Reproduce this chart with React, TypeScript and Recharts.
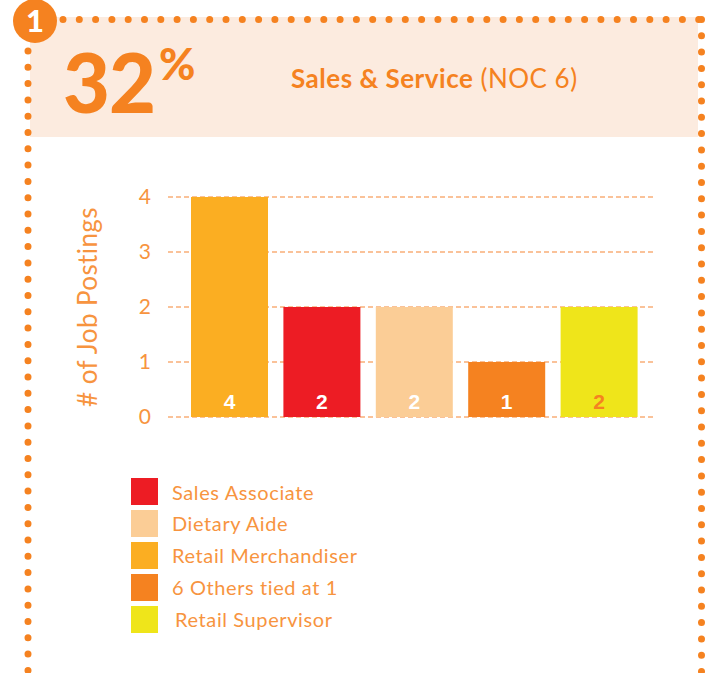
import { BarChart, Bar, XAxis, YAxis, CartesianGrid, Cell, LabelList } from "recharts";

const categories = ["Retail Merchandiser", "Sales Associate", "Dietary Aide", "6 Others tied at 1", "Retail Supervisor"];
const postings = [4, 2, 2, 1, 2];
const barColors = ["#FBAE22", "#ED1C24", "#FBCD96", "#F58220", "#EFE51A"];
const labelColors = ["#FFFFFF", "#FFFFFF", "#FFFFFF", "#FFFFFF", "#F58220"];
const yTicks = [0, 1, 2, 3, 4];
const legendOrder = ["Sales Associate", "Dietary Aide", "Retail Merchandiser", "6 Others tied at 1", "Retail Supervisor"];

const ORANGE = "#F58220";
const LIGHT_ORANGE = "#F7943F";
const FONT = "Lato, 'Open Sans', sans-serif";

const data = categories.map((name, i) => ({ name, value: postings[i] }));

function BarValue(props: any) {
  const { x, y, width, height, value, index } = props;
  return (
    <text
      x={x + width / 2}
      y={y + height - 8}
      textAnchor="middle"
      fill={labelColors[index]}
      fontSize={21}
      fontWeight="bold"
      fontFamily="'Liberation Sans', Arial, sans-serif"
    >
      {value}
    </text>
  );
}

function YLabel(props: any) {
  const { viewBox } = props;
  const cx = viewBox.x + 27;
  const cy = viewBox.y + viewBox.height / 2;
  return (
    <text
      x={cx}
      y={cy}
      transform={`rotate(-90 ${cx} ${cy})`}
      textAnchor="middle"
      dominantBaseline="central"
      fill={LIGHT_ORANGE}
      fontSize={26}
      fontWeight={400}
      letterSpacing={0.4}
      fontFamily={FONT}
    >
      # of Job Postings
    </text>
  );
}

export default function App() {
  return (
    <div style={{ position: "absolute", left: 0, top: 0, width: 710, height: 673, background: "#fff", overflow: "hidden", fontFamily: FONT }}>
      {/* header band */}
      <div style={{ position: "absolute", left: 30, top: 17, width: 668, height: 120, background: "#FCEBDF" }} />
      <div style={{ position: "absolute", left: 63, top: 32, color: ORANGE, fontSize: 81, fontWeight: 900, lineHeight: "100px", letterSpacing: -1 }}>
        32<span style={{ fontSize: 44, verticalAlign: "top", position: "relative", top: -19, marginLeft: 4 }}>%</span>
      </div>
      <div style={{ position: "absolute", left: 291, top: 63, color: ORANGE, fontSize: 26, lineHeight: "30px", letterSpacing: 0.5 }}>
        <span style={{ fontWeight: 700 }}>Sales &amp; Service</span>
        <span style={{ fontWeight: 400 }}> (NOC 6)</span>
      </div>

      {/* dotted frame */}
      <svg width={710} height={673} style={{ position: "absolute", left: 0, top: 0 }}>
        <g stroke={ORANGE} strokeWidth={7} strokeLinecap="round" strokeDasharray="0 16.3" fill="none">
          <line x1={63} y1={19.5} x2={702} y2={19.5} />
          <line x1={28} y1={51} x2={28} y2={680} />
          <line x1={701.5} y1={19.5} x2={701.5} y2={680} />
        </g>
        <circle cx={35} cy={21} r={22} fill={ORANGE} />
        <text x={35} y={32} textAnchor="middle" fill="#fff" fontSize={31} fontWeight={900} fontFamily={FONT}>1</text>
      </svg>

      <div style={{ position: "absolute", left: 0, top: 160 }}>
        <BarChart width={710} height={300} data={data} margin={{ top: 37, right: 57, bottom: 43, left: 60 }}>
          <CartesianGrid vertical={false} stroke="#F9AE78" strokeWidth={1.3} strokeDasharray="5 3" />
          <XAxis dataKey="name" hide padding={{ left: 15, right: 8 }} />
          <YAxis
            width={108}
            domain={[0, 4]}
            ticks={yTicks}
            axisLine={false}
            tickLine={false}
            tickSize={0}
            tickMargin={17}
            tick={{ fill: LIGHT_ORANGE, fontSize: 21, fontWeight: 400, fontFamily: FONT }}
            label={<YLabel />}
          />
          <Bar dataKey="value" barSize={77} isAnimationActive={false}>
            {data.map((d, i) => (
              <Cell key={d.name} fill={barColors[i]} />
            ))}
            <LabelList dataKey="value" content={<BarValue />} />
          </Bar>
        </BarChart>
      </div>

      {/* legend */}
      <div style={{ position: "absolute", left: 131, top: 475 }}>
        {legendOrder.map((name, i) => (
          <div key={name} style={{ display: "flex", alignItems: "center", height: 32 }}>
            <div style={{ width: 27, height: 27, background: barColors[categories.indexOf(name)] }} />
            <span style={{ marginLeft: name === "Retail Supervisor" ? 17 : 14, color: LIGHT_ORANGE, fontSize: 20, fontWeight: 400, letterSpacing: 0.6, marginTop: i === 0 ? 2 : 0 }}>{name}</span>
          </div>
        ))}
      </div>
    </div>
  );
}
